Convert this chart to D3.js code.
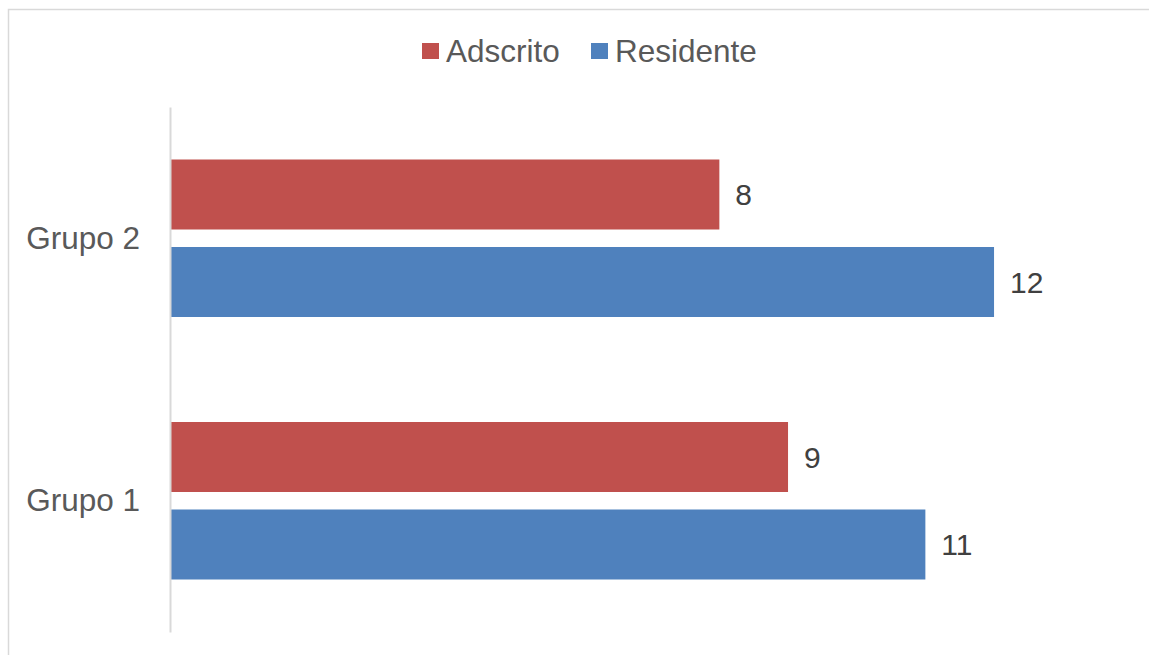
<!DOCTYPE html>
<html>
<head>
<meta charset="utf-8">
<script src="https://cdn.jsdelivr.net/npm/d3@7"></script>
<style>
  html, body { margin: 0; padding: 0; background: #fff; }
  svg { display: block; font-family: "Liberation Sans", Arial, sans-serif; }
</style>
</head>
<body>
<svg id="chart" width="1149" height="655"></svg>
<script>
// Groups listed top to bottom as drawn
const categories = ["Grupo 2", "Grupo 1"];
const seriesNames = ["Adscrito", "Residente"];
const adscrito = [8, 9];
const residente = [12, 11];
const colors = ["#C0504D", "#4F81BD"];

const rows = categories.map((c, i) => ({
  category: c,
  values: [
    { series: seriesNames[0], value: adscrito[i] },
    { series: seriesNames[1], value: residente[i] }
  ]
}));

const svg = d3.select("#chart");
const W = 1149, H = 655;

// Chart frame (extends past right and bottom edges)
svg.append("rect")
  .attr("x", 8.5).attr("y", 9.5)
  .attr("width", W + 20).attr("height", H + 20)
  .attr("fill", "#fff")
  .attr("stroke", "#d9d9d9")
  .attr("stroke-width", 1.5);

const plot = { left: 170, top: 107, bottom: 632 };

const x = d3.scaleLinear().domain([0, 14]).range([plot.left, plot.left + 14 * 68.67]);
const y0 = d3.scaleBand().domain(categories).range([plot.top, plot.bottom]).padding(0);
const y1 = d3.scaleBand().domain(seriesNames).range([0, y0.bandwidth()])
  .paddingInner(0.2).paddingOuter(0.6);
const color = d3.scaleOrdinal().domain(seriesNames).range(colors);

const groups = svg.append("g").selectAll("g")
  .data(rows).join("g")
  .attr("transform", d => `translate(0,${y0(d.category)})`);

groups.selectAll("rect")
  .data(d => d.values).join("rect")
  .attr("x", x(0))
  .attr("y", d => y1(d.series))
  .attr("width", d => x(d.value) - x(0))
  .attr("height", y1.bandwidth())
  .attr("fill", d => color(d.series));

groups.selectAll("text.val")
  .data(d => d.values).join("text")
  .attr("class", "val")
  .attr("x", d => x(d.value) + 16)
  .attr("y", d => y1(d.series) + y1.bandwidth() / 2)
  .attr("dy", "0.36em")
  .attr("font-size", 30)
  .attr("fill", "#404040")
  .text(d => d.value);

// Vertical category axis
const yAxis = svg.append("g")
  .attr("transform", `translate(${plot.left},0)`)
  .call(d3.axisLeft(y0).tickSize(0).tickPadding(30));
yAxis.select(".domain").attr("stroke", "#d9d9d9").attr("stroke-width", 2);
yAxis.selectAll("text")
  .attr("font-size", 31.5)
  .attr("font-family", "Liberation Sans, Arial, sans-serif")
  .attr("fill", "#595959")
  .attr("dy", "0.33em");

// Legend
const legend = svg.append("g");
const legendItems = [
  { name: seriesNames[0], x: 422 },
  { name: seriesNames[1], x: 591 }
];
legendItems.forEach(it => {
  legend.append("rect")
    .attr("x", it.x).attr("y", 43)
    .attr("width", 17).attr("height", 16)
    .attr("fill", color(it.name));
  legend.append("text")
    .attr("x", it.x + 24).attr("y", 62)
    .attr("font-size", 31.5)
    .attr("fill", "#595959")
    .text(it.name);
});
</script>
</body>
</html>
